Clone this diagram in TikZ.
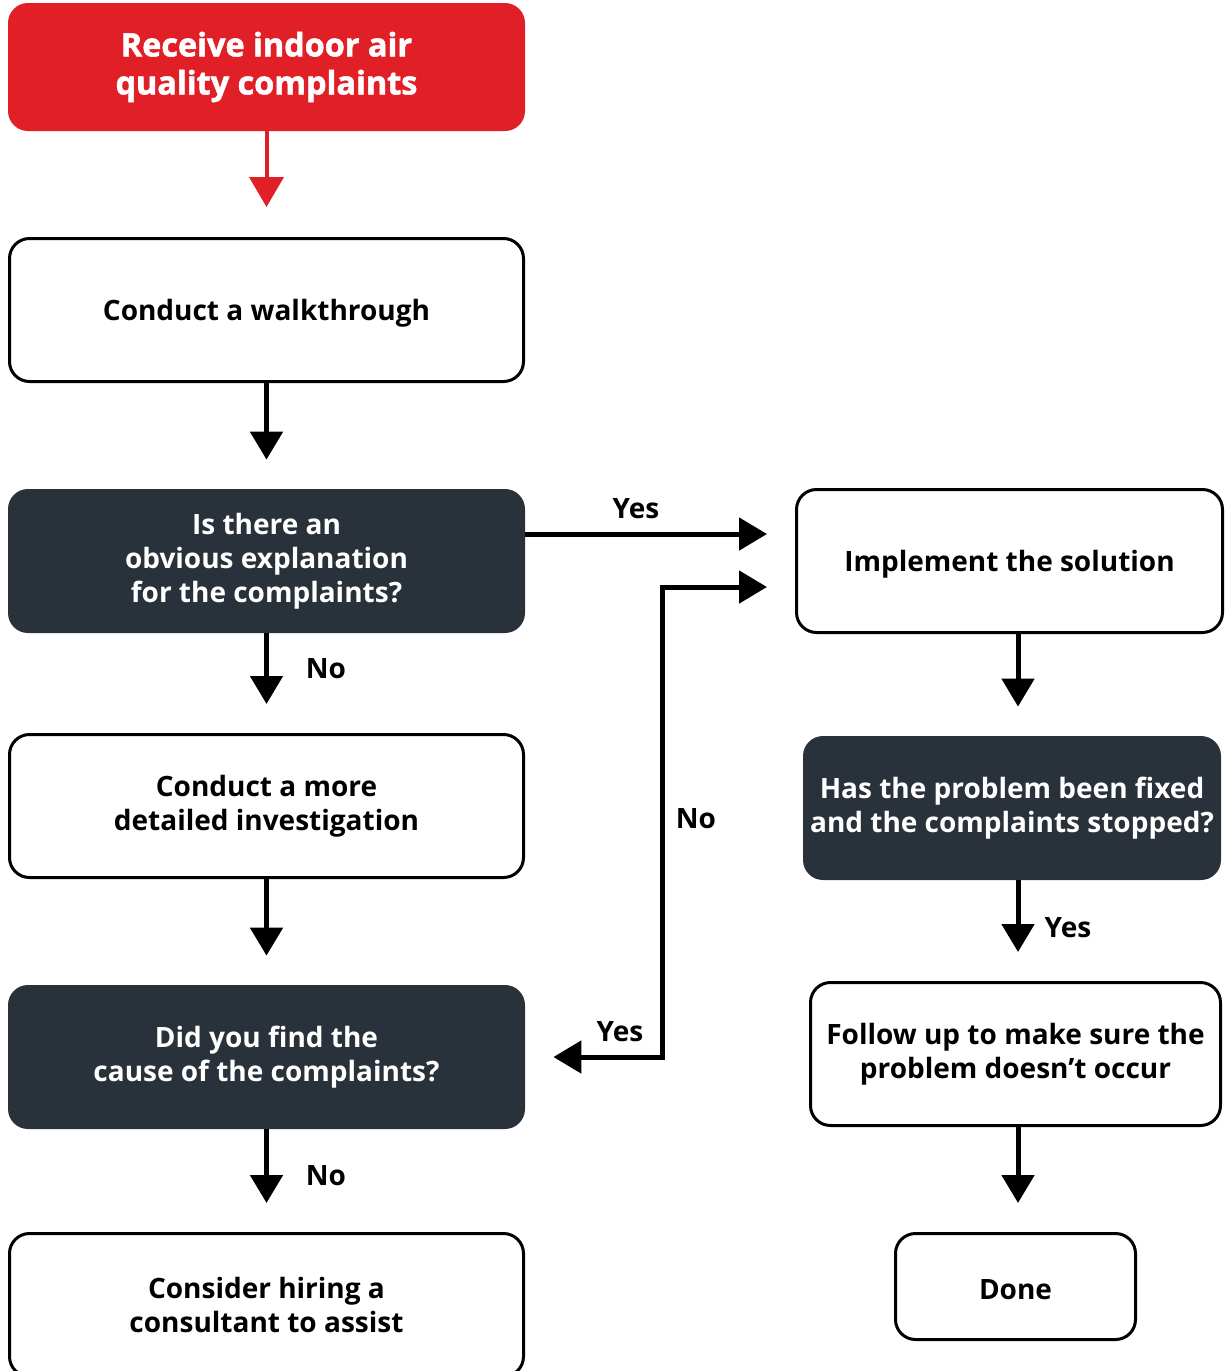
\documentclass[tikz,border=0pt]{standalone}
\usepackage{fontspec}
\setmainfont{Open Sans}
\newfontfamily\heavyfont[BoldFeatures={FakeBold=1.6}]{Open Sans}
\usetikzlibrary{arrows.meta}
\definecolor{alertred}{HTML}{E11F27}
\definecolor{slate}{HTML}{29323A}
\begin{document}
\begin{tikzpicture}[x=0.5pt,y=-0.5pt,
	box/.style={draw=black,line width=1.5pt,rounded corners=10pt,fill=white,align=center,inner sep=0pt,
		font=\bfseries\fontsize{14}{17}\selectfont,execute at begin node={\rule{0pt}{13.6pt}}},
	ask/.style={fill=slate,text=white,rounded corners=10pt,align=center,inner sep=0pt,
		font=\bfseries\fontsize{14}{17}\selectfont,execute at begin node={\rule{0pt}{13.6pt}}},
	lbl/.style={font=\bfseries\fontsize{14}{17}\selectfont,inner sep=0pt},
	flow/.style={line width=2.5pt,-{Triangle[width=16pt,length=14pt]},shorten >=14.5pt},
	dual/.style={line width=2.5pt,{Triangle[width=16pt,length=14pt]}-{Triangle[width=16pt,length=14pt]},shorten >=14pt,shorten <=14pt}]
	\useasboundingbox (0,0) rectangle (1228,1371);
	% left column
	\node[fill=alertred,text=white,rounded corners=10pt,align=center,inner sep=0pt,
		minimum width=258.5pt,minimum height=64pt,font=\heavyfont\bfseries\fontsize{16.2}{19}\selectfont]
		(start) at (266.5,67) {Receive indoor air\\quality complaints};
	\node[box,minimum width=257pt,minimum height=71.5pt] (walk) at (266.5,310) {Conduct a walkthrough};
	\node[ask,minimum width=258.5pt,minimum height=72pt] (q1) at (266.5,561) {Is there an\\obvious explanation\\for the complaints?};
	\node[box,minimum width=257pt,minimum height=71.5pt] (detail) at (266.5,806) {Conduct a more\\detailed investigation};
	\node[ask,minimum width=258.5pt,minimum height=72pt] (q2) at (266.5,1057) {Did you find the\\cause of the complaints?};
	\node[box,minimum width=257pt,minimum height=71.5pt] (consult) at (266.5,1305) {Consider hiring a\\consultant to assist};
	% right column
	\node[box,minimum width=213pt,minimum height=71.5pt] (impl) at (1009.5,561) {Implement the solution};
	\node[ask,minimum width=209pt,minimum height=72pt] (q3) at (1012,808) {Has the problem been fixed\\and the complaints stopped?};
	\node[box,minimum width=205pt,minimum height=71.5pt] (follow) at (1015.5,1054) {Follow up to make sure the\\problem doesn’t occur};
	\node[box,minimum width=120pt,minimum height=53pt] (done) at (1015.5,1286.5) {Done};
	\coordinate (xr) at (1018,0);
	% connectors
	\draw[alertred,line width=2pt,-{Triangle[width=17pt,length=15pt]},shorten >=15pt] (start.south) -- (walk.north);
	\draw[flow] (walk) -- (q1);
	\draw[flow] (q1) -- (detail);
	\draw[flow] (detail) -- (q2);
	\draw[flow] (q2) -- (consult);
	\draw[flow,shorten >=14pt] (q1.east |- 0,534) -- (impl.west |- 0,534);
	\draw[dual] (q2.east) -| (662,587) -- (impl.west |- 0,587);
	\draw[flow] (impl.south -| xr) -- (q3.north -| xr);
	\draw[flow] (q3.south -| xr) -- (follow.north -| xr);
	\draw[flow] (follow.south -| xr) -- (done.north -| xr);
	% labels
	\node[lbl] (yes1) at (636,509) {Yes};
	\node[lbl] (no1) at (326,669) {No};
	\node[lbl] (no2) at (326,1176) {No};
	\node[lbl] (no3) at (696,819) {No};
	\node[lbl] (yes2) at (620,1032) {Yes};
	\node[lbl] (yes3) at (1068,928) {Yes};
\end{tikzpicture}
\end{document}
